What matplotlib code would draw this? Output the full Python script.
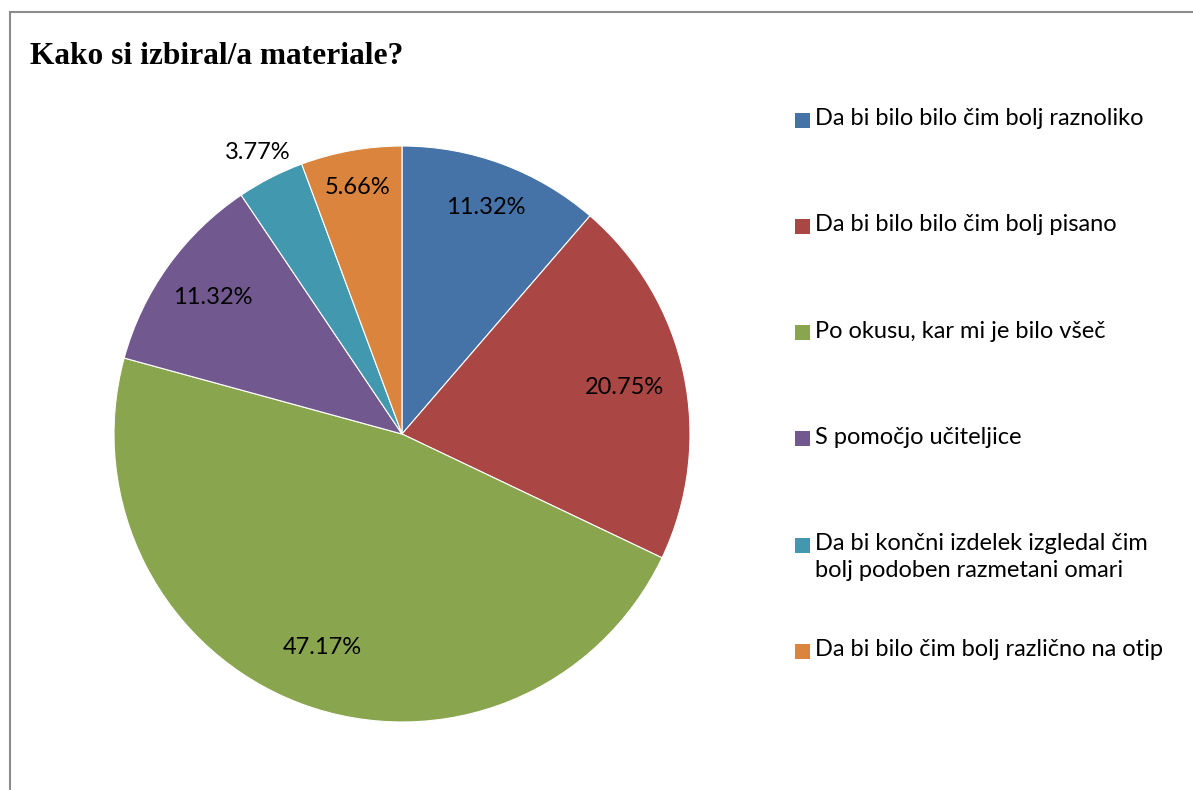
import matplotlib
matplotlib.use("Agg")
import matplotlib.pyplot as plt
import numpy as np
from matplotlib.lines import Line2D
from matplotlib.patches import Rectangle

# answers to "Kako si izbiral/a materiale?" (share of pupils, %)
answers = [
    "Da bi bilo bilo čim bolj raznoliko",
    "Da bi bilo bilo čim bolj pisano",
    "Po okusu, kar mi je bilo všeč",
    "S pomočjo učiteljice",
    "Da bi končni izdelek izgledal čim\nbolj podoben razmetani omari",
    "Da bi bilo čim bolj različno na otip",
]
shares = [11.32, 20.75, 47.17, 11.32, 3.77, 5.66]
colors = ["#4572A7", "#AA4643", "#89A54E", "#71588F", "#4198AF", "#DB843D"]
label_radius = [0.84, 0.79, 0.79, 0.81, 1.10, 0.87]

W, H = 1193, 790
fig = plt.figure(figsize=(W / 100, H / 100), dpi=100)

# pie area: centre (402, 434) px, radius 288 px
cx, cy, r = 402, 434, 288
ax = fig.add_axes([(cx - r) / W, 1 - (cy + r) / H, 2 * r / W, 2 * r / H])
wedges, _ = ax.pie(
    shares, colors=colors, startangle=90, counterclock=False,
    wedgeprops=dict(edgecolor="white", linewidth=0.8),
)
ax.set_xlim(-1, 1)
ax.set_ylim(-1, 1)
ax.set_aspect("equal")
ax.axis("off")

label_font = dict(family=["Lato", "DejaVu Sans"], fontsize=17, color="black")
for w, val, dist in zip(wedges, shares, label_radius):
    mid = np.deg2rad((w.theta1 + w.theta2) / 2)
    ax.text(dist * np.cos(mid), dist * np.sin(mid), f"{val:.2f}%",
            ha="center", va="center", **label_font)

fig.text(30 / W, 1 - 56 / H, "Kako si izbiral/a materiale?",
         family="Liberation Serif", fontweight="bold", fontsize=22.6,
         ha="left", va="center")

# legend drawn by hand so the two-line entry keeps its marker on the first line
y0, step = 120, 106.3
for i, (name, col) in enumerate(zip(answers, colors)):
    y = y0 + i * step
    fig.add_artist(Rectangle((795 / W, 1 - (y + 7.5) / H), 15 / W, 15 / H,
                             facecolor=col, edgecolor="none",
                             transform=fig.transFigure))
    fig.text(815 / W, 1 - (y - 12) / H, name, ha="left", va="top",
             linespacing=1.32, **label_font)

# outer frame (left and top edges visible)
frame = dict(color="#8c8c8c", linewidth=1.5, transform=fig.transFigure)
fig.add_artist(Line2D([9.5 / W, 9.5 / W], [0, 1 - 11.5 / H], **frame))
fig.add_artist(Line2D([9.5 / W, 1], [1 - 11.5 / H, 1 - 11.5 / H], **frame))

fig.savefig("out.png", dpi=100, facecolor="white")
